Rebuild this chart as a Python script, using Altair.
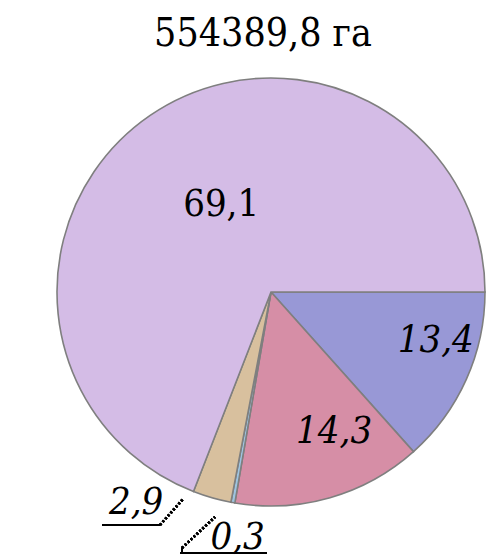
import math
import altair as alt
import pandas as pd

categories = ["a", "b", "c", "d", "e"]
values = [13.4, 14.3, 0.3, 2.9, 69.1]
labels = ["13,4", "14,3", "0,3", "2,9", "69,1"]
colors = ["#9898D6", "#D68EA6", "#9EC4E0", "#D8C09E", "#D4BCE6"]

df = pd.DataFrame({"cat": categories, "val": values, "label": labels,
                   "ord": list(range(len(categories)))})

FONT = "DejaVu Serif Condensed"
CX, CY, R = 263, 224, 214
theta_scale = alt.Scale(range=[math.pi / 2, math.pi / 2 + 2 * math.pi])

base = alt.Chart(df)

pie = base.mark_arc(radius=R, stroke="#7F7F7F", strokeWidth=1.6).encode(
    theta=alt.Theta("val:Q", stack=True, scale=theta_scale),
    color=alt.Color("cat:N", scale=alt.Scale(domain=categories, range=colors), legend=None),
    order=alt.Order("ord:Q"),
    x=alt.value(CX), y=alt.value(CY),
)

def label_layer(cat, radius, dx, dy, italic=True):
    return base.mark_text(
        radius=radius, dx=dx, dy=dy, font=FONT, fontSize=38,
        fontStyle="italic" if italic else "normal", baseline="alphabetic",
        align="center", color="black",
    ).encode(
        theta=alt.Theta("val:Q", stack=True, scale=theta_scale),
        order=alt.Order("ord:Q"),
        text=alt.condition(alt.datum.cat == cat, "label:N", alt.value("")),
        x=alt.value(CX), y=alt.value(CY),
    )

l1 = label_layer("a", 175, 5, -12)
l2 = label_layer("b", 160, 19, -3)
l3 = label_layer("c", 260, 13, 1)
l4 = label_layer("d", 235, -70, -4)
l5 = label_layer("e", 90, 1, -2, italic=False)

def rule(x1, y1, x2, y2, dash=None, width=2):
    kw = dict(color="black", strokeWidth=width)
    if dash:
        kw["strokeDash"] = dash
    return base.mark_rule(**kw).encode(
        x=alt.value(x1), y=alt.value(y1), x2=alt.value(x2), y2=alt.value(y2))

u1 = rule(94, 457, 152, 457)
d1 = rule(152, 457, 175, 431, dash=[2, 2], width=2.6)
u2 = rule(172, 485, 259, 485)
v2 = rule(174, 485, 174, 480)
d2 = rule(174, 480, 207, 449, dash=[2, 2], width=2.6)

chart = alt.layer(pie, l1, l2, l3, l4, l5, u1, d1, u2, v2, d2).properties(
    width=478, height=490,
    title=alt.Title("554389,8 га", font=FONT, fontSize=39,
                    fontWeight="normal", color="black", dx=16, dy=37, offset=0,
                    baseline="alphabetic"),
    padding={"left": 0, "top": 60, "right": 0, "bottom": 0},
    autosize="none",
).configure_view(stroke=None)

chart.save("out.html", embed_options={"renderer": "svg", "actions": False})
